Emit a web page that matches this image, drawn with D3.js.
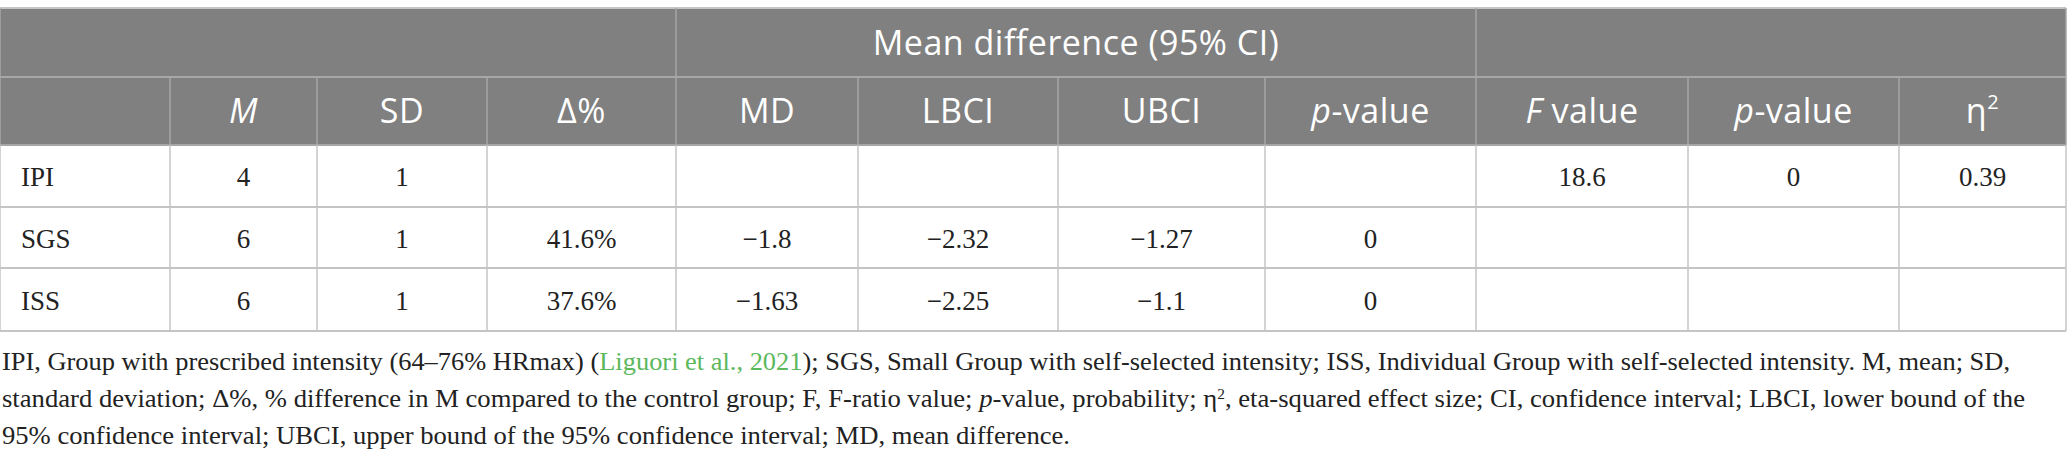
<!DOCTYPE html>
<html lang="en">
	<head>
		<meta charset="utf-8">
		<title>Table</title>
		<script type="text/javascript" src="https://cdn.jsdelivr.net/npm/d3@7"></script>
		<style type="text/css">
			body { margin: 0; background: white; }
			.head { font-family: "Open Sans", sans-serif; font-size: 34px; fill: white; letter-spacing: 0.5px; }
			.cell { font-family: "Liberation Serif", serif; font-size: 27px; fill: #222; }
			.note { font-family: "Liberation Serif", serif; font-size: 26px; fill: #222; }
		</style>
	</head>
	<body>
		<script type="text/javascript">

			//Data
			var groups = ["IPI", "SGS", "ISS"];
			var means = [4, 6, 6];
			var sds = [1, 1, 1];
			var deltas = [null, "41.6%", "37.6%"];
			var md = [null, -1.8, -1.63];
			var lbci = [null, -2.32, -2.25];
			var ubci = [null, -1.27, -1.1];
			var pMD = [null, 0, 0];
			var fValue = [18.6, null, null];
			var pF = [0, null, null];
			var eta = [0.39, null, null];

			var spanLabels = ["", "Mean difference (95% CI)", ""];

			//Width and height
			var w = 2068;
			var h = 462;

			//Column edges and row edges (layout)
			var colEdges = [0, 170, 317, 487, 676, 858, 1058, 1265, 1476, 1688, 1899, 2066];
			var spanEdges = [0, 676, 1476, 2066];
			var rowEdges = [8, 77, 145, 207, 268, 331];

			var fmt = d3.format("");
			var fmtOrBlank = function(d) { return d == null ? "" : fmt(d); };

			var columns = [
				groups,
				means.map(fmt),
				sds.map(fmt),
				deltas,
				md.map(fmtOrBlank),
				lbci.map(fmtOrBlank),
				ubci.map(fmtOrBlank),
				pMD.map(fmtOrBlank),
				fValue.map(fmtOrBlank),
				pF.map(fmtOrBlank),
				eta.map(fmtOrBlank)
			];

			//Header pieces: [text, italic, superscript] per column
			var headers = [
				[],
				[["M", true]],
				[["SD", false]],
				[["\u0394%", false]],
				[["MD", false]],
				[["LBCI", false]],
				[["UBCI", false]],
				[["p", true], ["-value", false]],
				[["F", true], [" value", false]],
				[["p", true], ["-value", false]],
				[["\u03b7", false], ["2", false, true]]
			];

			var svg = d3.select("body")
						.append("svg")
						.attr("width", w)
						.attr("height", h);

			var colMid = function(i) { return (colEdges[i] + colEdges[i + 1]) / 2; };

			//Header background
			svg.append("rect")
				.attr("x", colEdges[0])
				.attr("y", rowEdges[0])
				.attr("width", colEdges[colEdges.length - 1] - colEdges[0])
				.attr("height", rowEdges[2] - rowEdges[0])
				.attr("fill", "#808080");

			//Horizontal grid lines
			svg.selectAll("line.h")
				.data(rowEdges)
				.enter()
				.append("line")
				.attr("class", "h")
				.attr("x1", colEdges[0])
				.attr("x2", colEdges[colEdges.length - 1])
				.attr("y1", function(d) { return d; })
				.attr("y2", function(d) { return d; })
				.attr("stroke", function(d, i) { return i == 1 || i == 2 ? "#a6a6a6" : "#c4c4c4"; })
				.attr("stroke-width", 2);

			//Span header dividers
			svg.selectAll("line.span")
				.data(spanEdges)
				.enter()
				.append("line")
				.attr("class", "span")
				.attr("x1", function(d) { return d; })
				.attr("x2", function(d) { return d; })
				.attr("y1", rowEdges[0])
				.attr("y2", rowEdges[1])
				.attr("stroke", "#a6a6a6")
				.attr("stroke-width", 1.5);

			//Column dividers in body
			svg.selectAll("line.col")
				.data(colEdges)
				.enter()
				.append("line")
				.attr("class", "col")
				.attr("x1", function(d) { return d; })
				.attr("x2", function(d) { return d; })
				.attr("y1", rowEdges[2])
				.attr("y2", rowEdges[rowEdges.length - 1])
				.attr("stroke", "#c4c4c4")
				.attr("stroke-width", 1.5);

			//Column dividers in header
			svg.selectAll("line.colh")
				.data(colEdges)
				.enter()
				.append("line")
				.attr("class", "colh")
				.attr("x1", function(d) { return d; })
				.attr("x2", function(d) { return d; })
				.attr("y1", rowEdges[1])
				.attr("y2", rowEdges[2])
				.attr("stroke", "#a6a6a6")
				.attr("stroke-width", 1.5);

			//Span header text
			svg.selectAll("text.span")
				.data(spanLabels)
				.enter()
				.append("text")
				.attr("class", "head")
				.attr("x", function(d, i) { return (spanEdges[i] + spanEdges[i + 1]) / 2; })
				.attr("y", (rowEdges[0] + rowEdges[1]) / 2 + 12)
				.attr("text-anchor", "middle")
				.text(function(d) { return d; });

			//Column header text
			var hd = svg.selectAll("text.colhead")
				.data(headers)
				.enter()
				.append("text")
				.attr("class", "head")
				.attr("x", function(d, i) { return colMid(i); })
				.attr("y", (rowEdges[1] + rowEdges[2]) / 2 + 12)
				.attr("text-anchor", "middle");

			hd.each(function(parts) {
				var t = d3.select(this);
				parts.forEach(function(p) {
					var ts = t.append("tspan").text(p[0]);
					if (p[1]) ts.attr("font-style", "italic");
					if (p[2]) ts.attr("font-size", "20px").attr("dy", -14);
				});
			});

			//Body cells
			columns.forEach(function(values, ci) {
				svg.selectAll("text.c" + ci)
					.data(values)
					.enter()
					.append("text")
					.attr("class", "cell")
					.attr("x", ci == 0 ? colEdges[0] + 21 : colMid(ci))
					.attr("y", function(d, ri) { return (rowEdges[ri + 2] + rowEdges[ri + 3]) / 2 + 10; })
					.attr("text-anchor", ci == 0 ? "start" : "middle")
					.text(function(d) { return d == null ? "" : d; });
			});

			//Footnote
			var notes = [
				[["IPI, Group with prescribed intensity (64\u201376% HRmax) ("], ["Liguori et al., 2021", "link"], ["); SGS, Small Group with self-selected intensity; ISS, Individual Group with self-selected intensity. M, mean; SD,"]],
				[["standard deviation; \u0394%, % difference in M compared to the control group; F, F-ratio value; "], ["p", "it"], ["-value, probability; \u03b7"], ["2", "sup"], [", eta-squared effect size; CI, confidence interval; LBCI, lower bound of the"]],
				[["95% confidence interval; UBCI, upper bound of the 95% confidence interval; MD, mean difference."]]
			];
			var noteWidths = [2008, 2023, 1068];
			var noteBase = [370, 407, 444];

			var nt = svg.selectAll("text.note")
				.data(notes)
				.enter()
				.append("text")
				.attr("class", "note")
				.attr("x", 2)
				.attr("y", function(d, i) { return noteBase[i]; })
				.attr("textLength", function(d, i) { return noteWidths[i]; })
				.attr("lengthAdjust", "spacingAndGlyphs");

			nt.each(function(parts) {
				var t = d3.select(this);
				parts.forEach(function(p) {
					var ts = t.append("tspan").text(p[0]);
					if (p[1] == "link") ts.attr("fill", "#5cb85c");
					if (p[1] == "it") ts.attr("font-style", "italic");
					if (p[1] == "sup") ts.attr("font-size", "15px").attr("baseline-shift", "super");
				});
			});

		</script>
	</body>
</html>
